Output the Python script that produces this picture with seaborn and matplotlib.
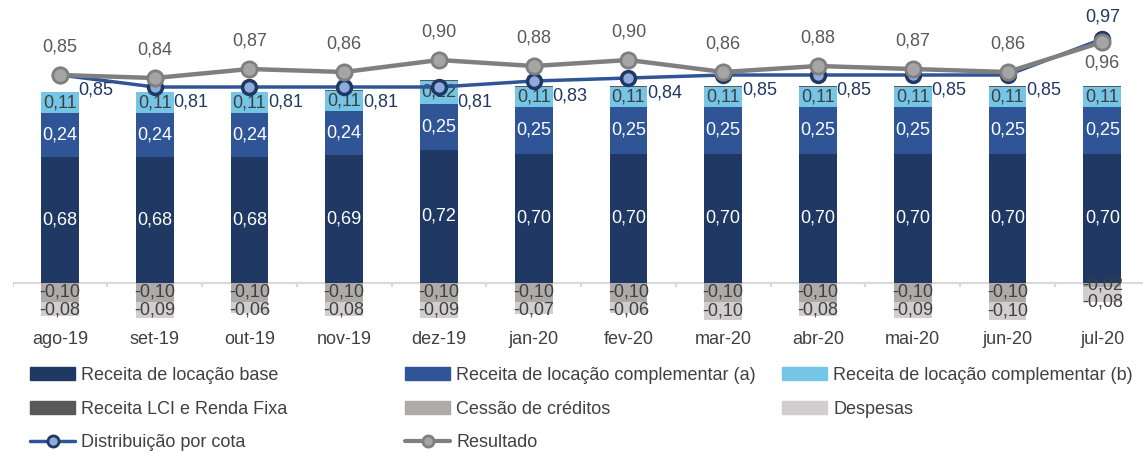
"""
Composição do resultado mensal por cota - barras empilhadas + linhas
"""

import matplotlib.pyplot as plt
import seaborn as sns
import numpy as np
from matplotlib.patches import Patch
from matplotlib.lines import Line2D

months = ['ago-19', 'set-19', 'out-19', 'nov-19', 'dez-19', 'jan-20',
          'fev-20', 'mar-20', 'abr-20', 'mai-20', 'jun-20', 'jul-20']
receita_base = [0.68, 0.68, 0.68, 0.69, 0.72, 0.70, 0.70, 0.70, 0.70, 0.70, 0.70, 0.70]
receita_comp_a = [0.24, 0.24, 0.24, 0.24, 0.25, 0.25, 0.25, 0.25, 0.25, 0.25, 0.25, 0.25]
receita_comp_b = [0.11, 0.11, 0.11, 0.11, 0.12, 0.11, 0.11, 0.11, 0.11, 0.11, 0.11, 0.11]
receita_lci = [0.005] * 12
cessao = [-0.10, -0.10, -0.10, -0.10, -0.10, -0.10, -0.10, -0.10, -0.10, -0.10, -0.10, -0.02]
despesas = [-0.08, -0.09, -0.06, -0.08, -0.09, -0.07, -0.06, -0.10, -0.08, -0.09, -0.10, -0.08]
distribuicao = [0.85, 0.81, 0.81, 0.81, 0.81, 0.83, 0.84, 0.85, 0.85, 0.85, 0.85, 0.97]
resultado = [0.85, 0.84, 0.87, 0.86, 0.90, 0.88, 0.90, 0.86, 0.88, 0.87, 0.86, 0.96]

C_BASE = '#1F3864'
C_A = '#2F5597'
C_B = '#75C6E6'
C_LCI = '#595959'
C_CESSAO = '#AEAAAA'
C_DESP = '#D0CECE'
TXT = '#404040'

sns.set_style('white')
plt.rcParams['font.family'] = ['Liberation Sans', 'DejaVu Sans']
FS = 13


def fmt(v):
    return f'{v:.2f}'.replace('.', ',')


fig = plt.figure(figsize=(11.43, 4.53), dpi=100)
ax = fig.add_axes([12.6 / 1143, 128 / 453, 1 - 12.6 / 1143, 315 / 453])

base = np.array(receita_base)
a = np.array(receita_comp_a)
b = np.array(receita_comp_b)
lci = np.array(receita_lci)
ces = np.array(cessao)
des = np.array(despesas)

# stacked bars: draw cumulative totals from the tallest down
layers = [
    (base + a + b + lci, C_LCI),
    (base + a + b, C_B),
    (base + a, C_A),
    (base, C_BASE),
    (ces + des, C_DESP),
    (ces, C_CESSAO),
]
for vals, col in layers:
    sns.barplot(x=months, y=vals, color=col, width=0.4, saturation=1,
                order=months, ax=ax, linewidth=0)

# value labels on bars
for i in range(len(months)):
    ax.text(i, base[i] / 2, fmt(base[i]), ha='center', va='center', color='white', fontsize=FS)
    ax.text(i, base[i] + a[i] / 2, fmt(a[i]), ha='center', va='center', color='white', fontsize=FS)
    ax.text(i, base[i] + a[i] + b[i] / 2, fmt(b[i]), ha='center', va='center', color=TXT, fontsize=FS)
    ax.text(i, ces[i] / 2, fmt(ces[i]), ha='center', va='center', color=TXT, fontsize=FS)
    # keep the despesas label clear of the cessão label when that segment is thin
    y_des = min(ces[i] + des[i] / 2, ces[i] / 2 - 0.095)
    ax.text(i, y_des, fmt(des[i]), ha='center', va='center', color=TXT, fontsize=FS)

ax.set_xlim(-0.5, 11.43)
ax.set_ylim(-0.227, 1.476)
ax.axhline(0, color='#D9D9D9', lw=1.5, zorder=0.5)
ax.vlines(np.arange(-0.5, len(months), 1), -0.022, 0, color='#D9D9D9', lw=1.5, zorder=0.5)
for s in ax.spines.values():
    s.set_visible(False)
ax.set_yticks([])
ax.set_xlabel('')
ax.set_ylabel('')
ax.tick_params(axis='x', length=0, pad=4, labelsize=FS, labelcolor=TXT)

# lines on secondary axis
ax2 = ax.twinx()
ax2.set_zorder(ax.get_zorder() + 1)
ax2.patch.set_visible(False)
xpos = np.arange(len(months))
sns.lineplot(x=xpos, y=distribuicao, ax=ax2, color=C_A, linewidth=2.5,
             marker='o', markersize=10, markerfacecolor='#8FAADC',
             markeredgecolor=C_BASE, markeredgewidth=2.5)
sns.lineplot(x=xpos, y=resultado, ax=ax2, color='#7F7F7F', linewidth=3.2,
             marker='o', markersize=11, markerfacecolor='#A5A5A5',
             markeredgecolor='#7F7F7F', markeredgewidth=2)
ax2.set_ylim(0.0167, 1.0667)
ax2.set_xlim(-0.5, 11.43)
ax2.set_yticks([])
for s in ax2.spines.values():
    s.set_visible(False)

last = len(months) - 1
for i in xpos:
    if i == last:
        ax2.annotate(fmt(distribuicao[i]), (i, distribuicao[i]), xytext=(0, 16),
                     textcoords='offset points', ha='center', va='center',
                     color=C_BASE, fontsize=FS)
        ax2.annotate(fmt(resultado[i]), (i, resultado[i]), xytext=(0, -15),
                     textcoords='offset points', ha='center', va='center',
                     color='#595959', fontsize=FS)
    else:
        ax2.annotate(fmt(resultado[i]), (i, resultado[i]), xytext=(0, 20),
                     textcoords='offset points', ha='center', va='center',
                     color='#595959', fontsize=FS)
        ax2.annotate(fmt(distribuicao[i]), (i, distribuicao[i]), xytext=(26, -11),
                     textcoords='offset points', ha='center', va='center',
                     color=C_BASE, fontsize=FS)

# legend in three columns
h_dist = Line2D([], [], color=C_A, lw=2.5, marker='o', markersize=8,
                markerfacecolor='#8FAADC', markeredgecolor=C_BASE, markeredgewidth=2)
h_res = Line2D([], [], color='#7F7F7F', lw=3, marker='o', markersize=8,
               markerfacecolor='#A5A5A5', markeredgecolor='#7F7F7F', markeredgewidth=2)
columns = [
    ([Patch(color=C_BASE), Patch(color=C_LCI), h_dist],
     ['Receita de locação base', 'Receita LCI e Renda Fixa', 'Distribuição por cota'], 30),
    ([Patch(color=C_A), Patch(color=C_CESSAO), h_res],
     ['Receita de locação complementar (a)', 'Cessão de créditos', 'Resultado'], 405),
    ([Patch(color=C_B), Patch(color=C_DESP)],
     ['Receita de locação complementar (b)', 'Despesas'], 782),
]
for handles, labels, x0 in columns:
    fig.legend(handles, labels, loc='upper left', bbox_to_anchor=(x0 / 1143, 1 - 367 / 453),
               frameon=False, fontsize=FS, labelcolor=TXT, borderpad=0, borderaxespad=0,
               handlelength=2.5, handleheight=0.7, handletextpad=0.35, labelspacing=0.92,
               numpoints=1)

plt.savefig('out.png', dpi=100)
plt.close()
